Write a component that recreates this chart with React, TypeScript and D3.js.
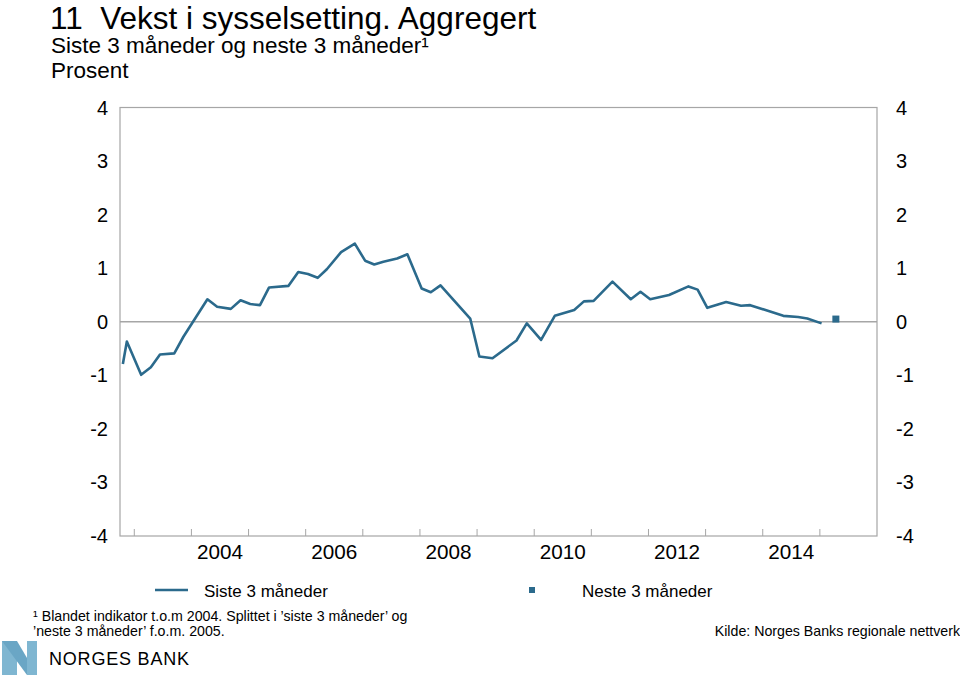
import { useRef, useEffect } from 'react';
import * as d3 from 'd3';

// decimal years and values
const dates = [
  2002.8, 2002.87, 2003.12, 2003.29, 2003.45, 2003.7, 2003.86, 2004.28, 2004.45, 2004.69,
  2004.86, 2005.03, 2005.2, 2005.36, 2005.7, 2005.87, 2006.04, 2006.21, 2006.37, 2006.62,
  2006.86, 2007.04, 2007.2, 2007.36, 2007.6, 2007.78, 2008.03, 2008.19, 2008.36, 2008.88,
  2009.04, 2009.27, 2009.69, 2009.87, 2010.12, 2010.36, 2010.7, 2010.87, 2011.04, 2011.37,
  2011.69, 2011.86, 2012.03, 2012.36, 2012.7, 2012.86, 2013.03, 2013.36, 2013.62, 2013.78,
  2014.36, 2014.62, 2014.78, 2015.03,
];
const siste = [
  -0.79, -0.37, -0.99, -0.85, -0.61, -0.59, -0.28, 0.42, 0.28, 0.24,
  0.4, 0.33, 0.31, 0.64, 0.67, 0.93, 0.89, 0.82, 0.98, 1.3,
  1.46, 1.14, 1.07, 1.12, 1.18, 1.26, 0.62, 0.55, 0.68, 0.06,
  -0.65, -0.68, -0.35, -0.03, -0.34, 0.11, 0.22, 0.38, 0.39, 0.75,
  0.42, 0.56, 0.42, 0.5, 0.66, 0.6, 0.26, 0.37, 0.3, 0.31,
  0.11, 0.09, 0.06, -0.03,
];
const nesteDates = [2015.28];
const neste = [0.05];

const yTicks = [-4, -3, -2, -1, 0, 1, 2, 3, 4];
const yearTicks = d3.range(2003, 2016);
const yearLabels = [2004, 2006, 2008, 2010, 2012, 2014];

const blue = '#2b6a8c';
const font = '"Liberation Sans", Arial, Helvetica, sans-serif';

export default function App() {
  const ref = useRef<SVGSVGElement>(null);

  useEffect(() => {
    const svg = d3.select(ref.current);
    svg.selectAll('*').remove();

    const left = 120;
    const right = 877;
    const top = 107.5;
    const bottom = 536;

    const x = d3.scaleLinear().domain([2002.75, 2016]).range([left, right]);
    const y = d3.scaleLinear().domain([-4, 4]).range([bottom, top]);

    const g = svg.append('g').style('font-family', font);

    // titles
    g.append('text').attr('x', 50).attr('y', 29).style('font-size', '31.5px').style('white-space', 'pre').text('11  Vekst i sysselsetting. Aggregert');
    g.append('text').attr('x', 51).attr('y', 52.5).style('font-size', '22.5px').text('Siste 3 måneder og neste 3 måneder¹');
    g.append('text').attr('x', 51).attr('y', 78).style('font-size', '22.5px').text('Prosent');

    // zero line
    g.append('line')
      .attr('x1', left).attr('x2', right)
      .attr('y1', y(0)).attr('y2', y(0))
      .attr('stroke', '#a6a6a6').attr('stroke-width', 1.5);

    // frame
    g.append('rect')
      .attr('x', left).attr('y', top)
      .attr('width', right - left).attr('height', bottom - top)
      .attr('fill', 'none').attr('stroke', '#a6a6a6').attr('stroke-width', 1.2);

    // x ticks
    g.selectAll('line.xt')
      .data(yearTicks)
      .join('line')
      .attr('class', 'xt')
      .attr('x1', (d) => x(d)).attr('x2', (d) => x(d))
      .attr('y1', bottom).attr('y2', bottom - 7)
      .attr('stroke', '#a6a6a6').attr('stroke-width', 1);

    g.selectAll('text.xl')
      .data(yearLabels)
      .join('text')
      .attr('class', 'xl')
      .attr('x', (d) => x(d + 0.5))
      .attr('y', 559)
      .attr('text-anchor', 'middle')
      .style('font-size', '20.7px')
      .text((d) => d);

    // y labels both sides
    g.selectAll('text.yl')
      .data(yTicks)
      .join('text')
      .attr('class', 'yl')
      .attr('x', 108)
      .attr('y', (d) => y(d) + 7)
      .attr('text-anchor', 'end')
      .style('font-size', '20px')
      .text((d) => d);

    g.selectAll('text.yr')
      .data(yTicks)
      .join('text')
      .attr('class', 'yr')
      .attr('x', 896)
      .attr('y', (d) => y(d) + 7)
      .style('font-size', '20px')
      .text((d) => d);

    // line
    const line = d3
      .line<number>()
      .x((_, i) => x(dates[i]))
      .y((d) => y(d));

    g.append('path')
      .datum(siste)
      .attr('d', line)
      .attr('fill', 'none')
      .attr('stroke', blue)
      .attr('stroke-width', 2.6)
      .attr('stroke-linejoin', 'round');

    g.selectAll('rect.neste')
      .data(neste)
      .join('rect')
      .attr('class', 'neste')
      .attr('x', (_, i) => x(nesteDates[i]) - 3.5)
      .attr('y', (d) => y(d) - 3.5)
      .attr('width', 7).attr('height', 7)
      .attr('fill', blue);

    // legend
    g.append('line').attr('x1', 155).attr('x2', 188).attr('y1', 590).attr('y2', 590).attr('stroke', blue).attr('stroke-width', 2.6);
    g.append('text').attr('x', 204).attr('y', 597).style('font-size', '17px').text('Siste 3 måneder');
    g.append('rect').attr('x', 529).attr('y', 587).attr('width', 6).attr('height', 6).attr('fill', blue);
    g.append('text').attr('x', 582).attr('y', 597).style('font-size', '17px').text('Neste 3 måneder');

    // footnote and source
    g.append('text').attr('x', 33).attr('y', 621).style('font-size', '14.2px').text('¹ Blandet indikator t.o.m 2004. Splittet i ’siste 3 måneder’ og');
    g.append('text').attr('x', 33).attr('y', 636).style('font-size', '14.2px').text('’neste 3 måneder’ f.o.m. 2005.');
    g.append('text').attr('x', 960).attr('y', 636).attr('text-anchor', 'end').style('font-size', '14.2px').text('Kilde: Norges Banks regionale nettverk');

    // logo
    const logo = g.append('g');
    logo.append('polygon').attr('points', '2,641 17,641 17,675 2,675').attr('fill', '#7fb6d1');
    logo.append('polygon').attr('points', '2,641 17,641 37,675 27,675').attr('fill', '#6aa6c5');
    logo.append('polygon').attr('points', '27,641 37,641 37,675 27,675').attr('fill', '#7fb6d1');
    logo.append('text').attr('x', 49).attr('y', 665).style('font-size', '18px').style('letter-spacing', '0.8px').text('NORGES BANK');
  }, []);

  return <svg ref={ref} width={960} height={676} style={{ display: 'block', position: 'absolute', left: 0, top: 0 }} />;
}
